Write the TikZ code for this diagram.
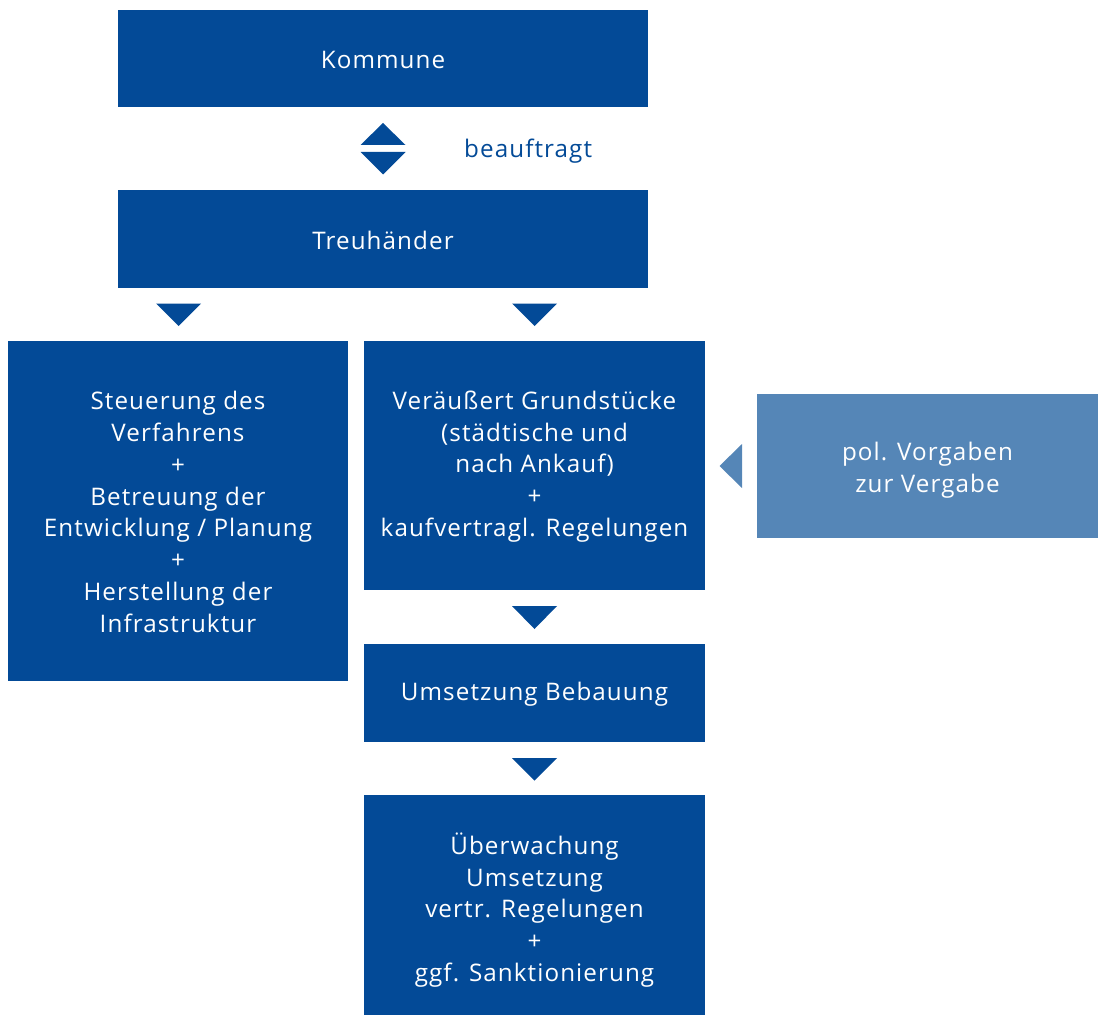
\documentclass[tikz,border=0pt]{standalone}
\usepackage{fontspec}
\setmainfont{Open Sans}[LetterSpace=4.5]
\definecolor{darkblue}{RGB}{3,74,151}
\definecolor{lightblue}{RGB}{85,134,183}
\begin{document}
\begin{tikzpicture}[x=1pt,y=-1pt,
  box/.style={fill=darkblue,draw=none,text=white,align=center,
    font=\fontsize{24.2}{31.8}\selectfont,inner sep=0pt},
  softbox/.style={box,fill=lightblue},
  tri/.style={fill=darkblue,draw=none}]
\useasboundingbox (0,0) rectangle (1099,1016);
% boxes
\path[box] (118,10) rectangle (648,107);
\node[box,fill=none] (kommune) at (383,59.5) {Kommune};
\path[box] (118,190) rectangle (648,288);
\node[box,fill=none] (treu) at (383,240) {Treuhänder};
\path[box] (8,341) rectangle (348,681);
\node[box,fill=none] (steuer) at (178,512) {Steuerung des\\Verfahrens\\+\\Betreuung der\\Entwicklung / Planung\\+\\Herstellung der\\Infrastruktur};
\path[box] (364,341) rectangle (705,590);
\node[box,fill=none] (verk) at (534.5,466.5) {Veräußert Grundstücke\\(städtische und\\nach Ankauf)\\+\\kaufvertragl. Regelungen};
\path[softbox] (757,394) rectangle (1098,538);
\node[box,fill=none] (vorg) at (927.5,470) {pol. Vorgaben\\zur Vergabe};
\path[box] (364,644) rectangle (705,742);
\node[box,fill=none] (bebau) at (534.5,694) {Umsetzung Bebauung};
\path[box] (364,795) rectangle (705,1015);
\node[box,fill=none] (ueber) at (534.5,910) {Überwachung\\Umsetzung\\vertr. Regelungen\\+\\ggf. Sanktionierung};
% double arrow between Kommune and Treuhänder
\fill[darkblue] (360.5,145) -- (383,123) -- (405.5,145) -- cycle;
\fill[darkblue] (360.5,152) -- (383,174.5) -- (405.5,152) -- cycle;
\node[text=darkblue,font=\fontsize{24.2}{24}\selectfont,anchor=west,inner sep=0pt] (beauf) at (464,151.5) {beauftragt};
% down arrows
\fill[darkblue] (156,303.5) -- (201,303.5) -- (178.5,326) -- cycle;
\fill[darkblue] (512,303.5) -- (557,303.5) -- (534.5,326) -- cycle;
\fill[darkblue] (512,606) -- (557,606) -- (534.5,629) -- cycle;
\fill[darkblue] (512,758) -- (557,758) -- (534.5,780.5) -- cycle;
% left arrow from the policy box
\fill[lightblue] (742,444) -- (742,488) -- (719.5,466) -- cycle;
\end{tikzpicture}
\end{document}
